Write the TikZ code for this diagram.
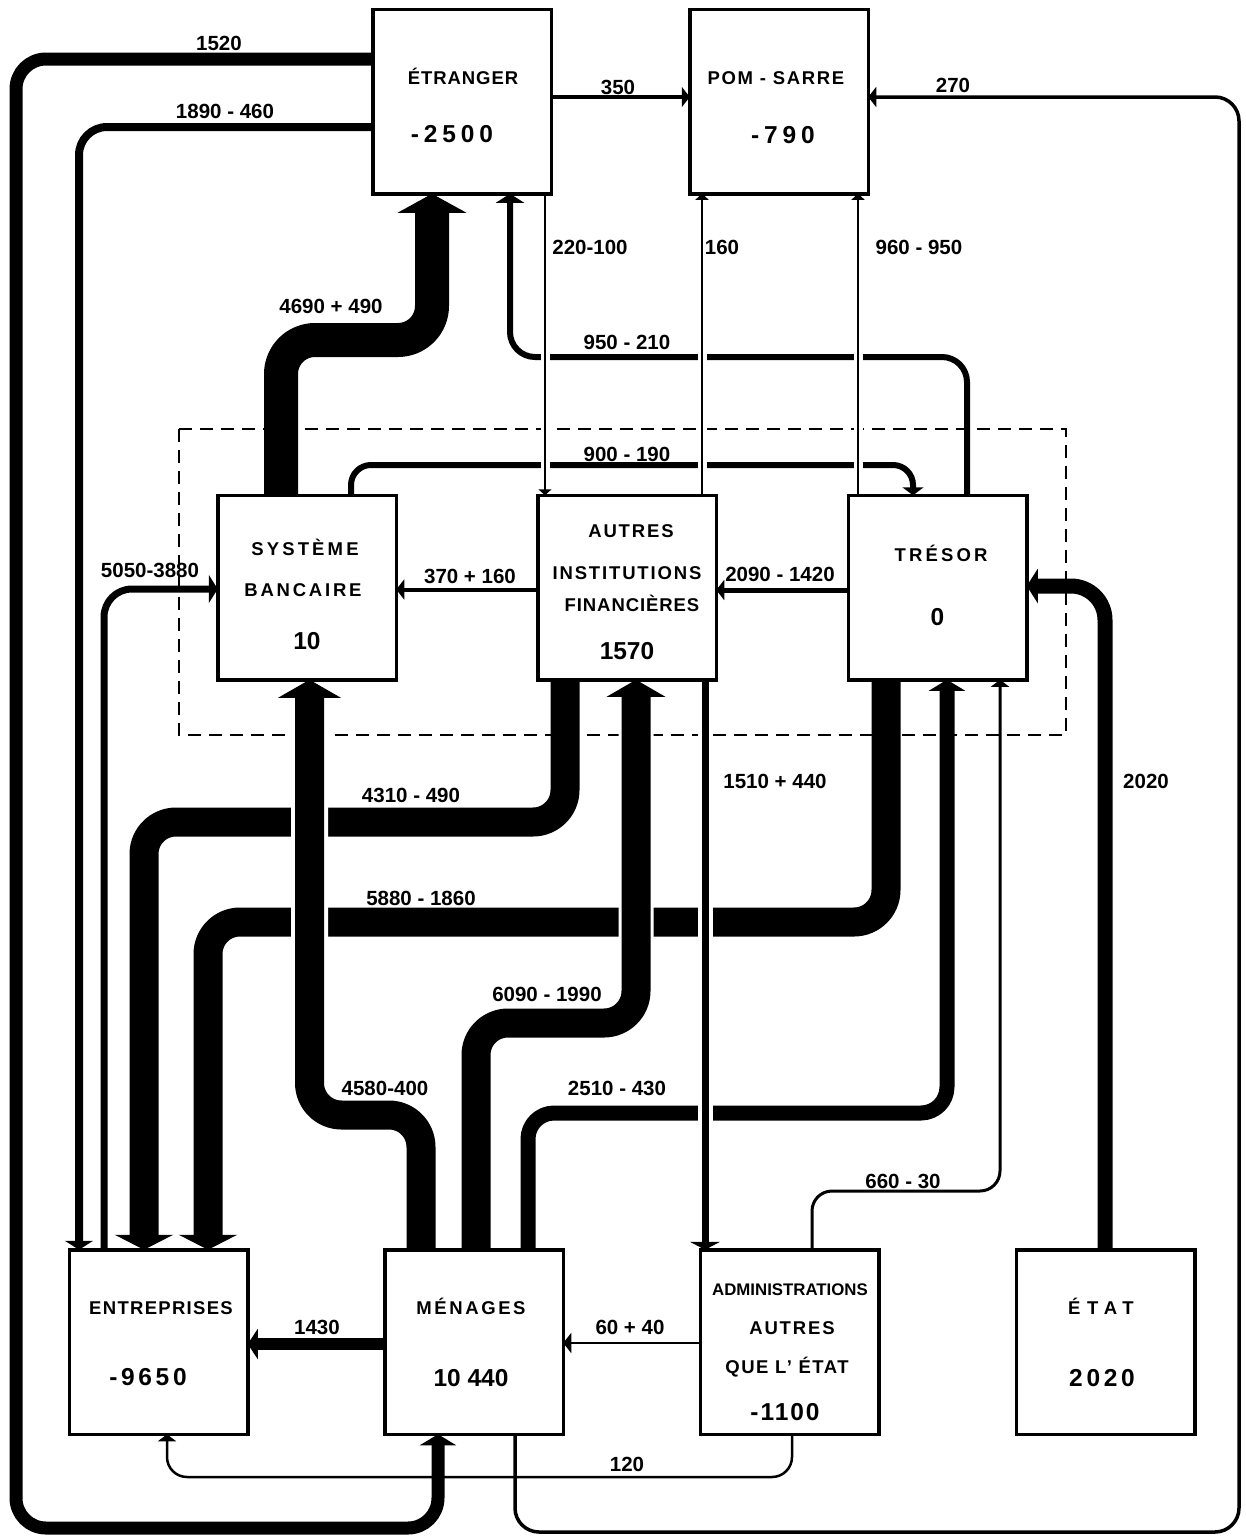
\documentclass[tikz,border=0pt]{standalone}
\usepackage{fontspec}
\setmainfont{Liberation Sans}
\usetikzlibrary{arrows.meta}
\begin{document}
\begin{tikzpicture}[x=1pt,y=-1pt,
  box/.style={draw, line width=3.5pt, fill=white, minimum width=175pt, minimum height=181pt, inner sep=0pt},
  lbl/.style={font=\bfseries\fontsize{20.5}{20.5}\selectfont, inner sep=0pt, text height=14.5pt, text depth=0pt},
  btxt/.style={font=\bfseries\fontsize{18.5}{18.5}\selectfont, inner sep=0pt, text height=13pt, text depth=0pt},
  bnum/.style={font=\bfseries\fontsize{24.5}{24.5}\selectfont, inner sep=0pt, text height=17.5pt, text depth=0pt},
  flow/.style={line cap=butt, line join=round},
  halo/.style={preaction={draw=white, line width=#1, arrows=-}},
  tBig/.style={arrows={-{Triangle[width=62pt,length=18pt]}}},
  tEnt/.style={arrows={-{Triangle[width=58pt,length=15pt]}}},
  tMid/.style={arrows={-{Triangle[width=36pt,length=11pt]}}},
  tMed/.style={arrows={-{Triangle[width=28pt,length=9pt]}}},
  tSm/.style={arrows={-{Triangle[width=20pt,length=8pt]}}},
  tThin/.style={arrows={-{Triangle[width=13pt,length=6pt]}}}
]
\useasboundingbox (0,0) rectangle (1246,1537);

% box positions (drawn later, on top of the flows)
\node[box, draw=none, fill=none] (etr) at (462,101.5) {};
\node[box, draw=none, fill=none] (pom) at (779,101.5) {};
\node[box, draw=none, fill=none] (sb) at (307,587.5) {};
\node[box, draw=none, fill=none] (aif) at (627,587.5) {};
\node[box, draw=none, fill=none] (tre) at (937.5,587.5) {};
\node[box, draw=none, fill=none] (ent) at (158.5,1342) {};
\node[box, draw=none, fill=none] (men) at (474,1342) {};
\node[box, draw=none, fill=none] (adm) at (789.5,1342) {};
\node[box, draw=none, fill=none] (eta) at (1105.5,1342) {};

% dashed frame
\draw[line width=2pt, dash pattern=on 13pt off 8pt] (179,429) rectangle (1066,735);

% flows drawn underneath
\draw[flow, line width=13pt, rounded corners=30pt, tMid] (etr.west |- 0,59) -- (16,59) -- (16,1528) -- (438,1528) -- (438,0 |- men.south);
\draw[flow, line width=8pt, rounded corners=28pt, tMed] (etr.west |- 0,127) -- (79,127) -- (79,0 |- ent.north);
\draw[flow, line width=7pt, rounded corners=28pt, tMed] (104,0 |- ent.north) -- (104,589) -- (sb.west |- 0,589);
\draw[flow, line width=4pt, tSm] (etr.east |- 0,97) -- (pom.west |- 0,97);
\draw[flow, line width=3.5pt, rounded corners=24pt, tSm] (515,0 |- men.south) -- (515,1532) -- (1239,1532) -- (1239,97) -- (pom.east |- 0,97);
\draw[flow, line width=6pt, rounded corners=25pt, tMed] (967,0 |- tre.north) -- (967,357) -- (510,357) -- (510,0 |- etr.south);
\draw[flow, line width=34pt, rounded corners=34pt, arrows={-{Triangle[width=68pt,length=19pt]}}] (281,0 |- sb.north) -- (281,340) -- (432,340) -- (432,0 |- etr.south);
\draw[flow, line width=6pt, rounded corners=20pt, arrows={-{Triangle[width=21pt,length=8pt]}}] (351,0 |- sb.north) -- (351,465) -- (913,465) -- (913,0 |- tre.north);
\draw[flow, line width=4pt, tSm] (aif.west |- 0,589.5) -- (sb.east |- 0,589.5);
\draw[flow, line width=5pt, tSm] (tre.west |- 0,590) -- (aif.east |- 0,590);
\draw[flow, line width=15pt, rounded corners=34pt, arrows={-{Triangle[width=34pt,length=11pt]}}] (1105,0 |- eta.north) -- (1105,586) -- (tre.east |- 0,586);
\draw[flow, line width=29pt, rounded corners=32pt, tEnt] (565,0 |- aif.south) -- (565,822) -- (144,822) -- (144,0 |- ent.north);
\draw[flow, line width=29pt, rounded corners=32pt, tEnt] (886,0 |- tre.south) -- (886,922) -- (208,922) -- (208,0 |- ent.north);
\draw[flow, line width=15pt, rounded corners=26pt, tMid] (528,0 |- men.north) -- (528,1113) -- (947,1113) -- (947,0 |- tre.south);
\draw[flow, line width=3pt, rounded corners=20pt, arrows={-{Triangle[width=18pt,length=7pt]}}] (812,0 |- adm.north) -- (812,1191) -- (1000,1191) -- (1000,0 |- tre.south);
\draw[flow, line width=12pt, arrows={-{Triangle[width=30pt,length=10pt]}}] (men.west |- 0,1344) -- (ent.east |- 0,1344);
\draw[flow, line width=2.5pt, tSm] (adm.west |- 0,1343) -- (men.east |- 0,1343);
\draw[flow, line width=2.5pt, rounded corners=20pt, arrows={-{Triangle[width=18pt,length=7pt]}}] (792,0 |- adm.south) -- (792,1477) -- (167,1477) -- (167,0 |- ent.south);

% flows drawn over crossings (with white gaps)
\draw[flow, line width=29pt, rounded corners=32pt, halo=37pt, tBig] (421,0 |- men.north) -- (421,1115) -- (309.5,1115) -- (309.5,0 |- sb.south);
\draw[flow, line width=29pt, rounded corners=32pt, halo=35pt, arrows={-{Triangle[width=58pt,length=17pt]}}] (476,0 |- men.north) -- (476,1023) -- (636,1023) -- (636,0 |- aif.south);
\draw[flow, line width=7pt, halo=15pt, arrows={-{Triangle[width=30pt,length=8pt]}}] (705,0 |- aif.south) -- (705,0 |- adm.north);
\draw[flow, line width=1.5pt, halo=9pt, tThin] (545,0 |- etr.south) -- (545,0 |- aif.north);
\draw[flow, line width=1.5pt, halo=9pt, tThin] (702,0 |- aif.north) -- (702,0 |- pom.south);
\draw[flow, line width=1.5pt, halo=9pt, tThin] (858,0 |- tre.north) -- (858,0 |- pom.south);

% boxes
\foreach \b in {etr,pom,sb,aif,tre,ent,men,adm,eta}
  \draw[line width=3.5pt, fill=white] (\b.north west) rectangle (\b.south east);

% box texts
\node[btxt] (tEtr) at (463,78) {\addfontfeatures{LetterSpace=5}ÉTRANGER};
\node[bnum] (nEtr) at (452,134) {\addfontfeatures{LetterSpace=20}-2500};
\node[btxt] (tPom) at (776,78) {\addfontfeatures{LetterSpace=9}POM - SARRE};
\node[bnum] (nPom) at (783,135) {\addfontfeatures{LetterSpace=20}-790};
\node[btxt] (tSb1) at (305,549) {\addfontfeatures{LetterSpace=17}SYSTÈME};
\node[btxt] (tSb2) at (303,590) {\addfontfeatures{LetterSpace=15}BANCAIRE};
\node[bnum] (nSb) at (307,641) {10};
\node[btxt] (tAif1) at (631,531) {\addfontfeatures{LetterSpace=10}AUTRES};
\node[btxt] (tAif2) at (627,573) {\addfontfeatures{LetterSpace=10}INSTITUTIONS};
\node[btxt] (tAif3) at (632,605) {\addfontfeatures{LetterSpace=5}FINANCIÈRES};
\node[bnum] (nAif) at (627,651) {1570};
\node[btxt] (tTre) at (941,555) {\addfontfeatures{LetterSpace=17}TRÉSOR};
\node[bnum] (nTre) at (937.5,617) {0};
\node[btxt] (tEnt) at (161,1308) {\addfontfeatures{LetterSpace=7}ENTREPRISES};
\node[bnum] (nEnt) at (148,1377) {\addfontfeatures{LetterSpace=15}-9650};
\node[bnum] (nMen) at (471,1378) {10 440};
\node[btxt] (tMen) at (471,1308) {\addfontfeatures{LetterSpace=14}MÉNAGES};
\node[btxt, font=\bfseries\fontsize{16.8}{16.8}\selectfont] (tAdm1) at (790,1289) {ADMINISTRATIONS};
\node[btxt] (tAdm2) at (792,1328) {\addfontfeatures{LetterSpace=10}AUTRES};
\node[btxt] (tAdm3) at (787,1367) {\addfontfeatures{LetterSpace=8}QUE L' ÉTAT};
\node[bnum] (nAdm) at (785,1412) {\addfontfeatures{LetterSpace=8}-1100};
\node[btxt] (tEta) at (1101,1308) {\addfontfeatures{LetterSpace=36}ÉTAT};
\node[bnum] (nEta) at (1102,1378) {\addfontfeatures{LetterSpace=15}2020};

% flow labels
\node[lbl] (l1520) at (219,43) {1520};
\node[lbl] (l1890) at (225,111) {1890 - 460};
\node[lbl] (l350) at (618,87) {350};
\node[lbl] (l270) at (953,85) {270};
\node[lbl] (l220) at (590,247) {220-100};
\node[lbl] (l160) at (722,247) {160};
\node[lbl] (l960) at (919,247) {960 - 950};
\node[lbl] (l4690) at (331,306) {4690 + 490};
\node[lbl] (l950) at (627,342) {950 - 210};
\node[lbl] (l900) at (627,454) {900 - 190};
\node[lbl] (l5050) at (150,570) {5050-3880};
\node[lbl] (l370) at (470,576) {370 + 160};
\node[lbl] (l2090) at (780,574) {2090 - 1420};
\node[lbl] (l4310) at (411,795) {4310 - 490};
\node[lbl] (l1510) at (775,781) {1510 + 440};
\node[lbl] (l2020) at (1146,781) {2020};
\node[lbl] (l5880) at (421,898) {5880 - 1860};
\node[lbl] (l6090) at (547,994) {6090 - 1990};
\node[lbl] (l4580) at (385,1088) {4580-400};
\node[lbl] (l2510) at (617,1088) {2510 - 430};
\node[lbl] (l660) at (903,1181) {660 - 30};
\node[lbl] (l1430) at (317,1327) {1430};
\node[lbl] (l60) at (630,1327) {60 + 40};
\node[lbl] (l120) at (627,1464) {120};
\end{tikzpicture}
\end{document}
